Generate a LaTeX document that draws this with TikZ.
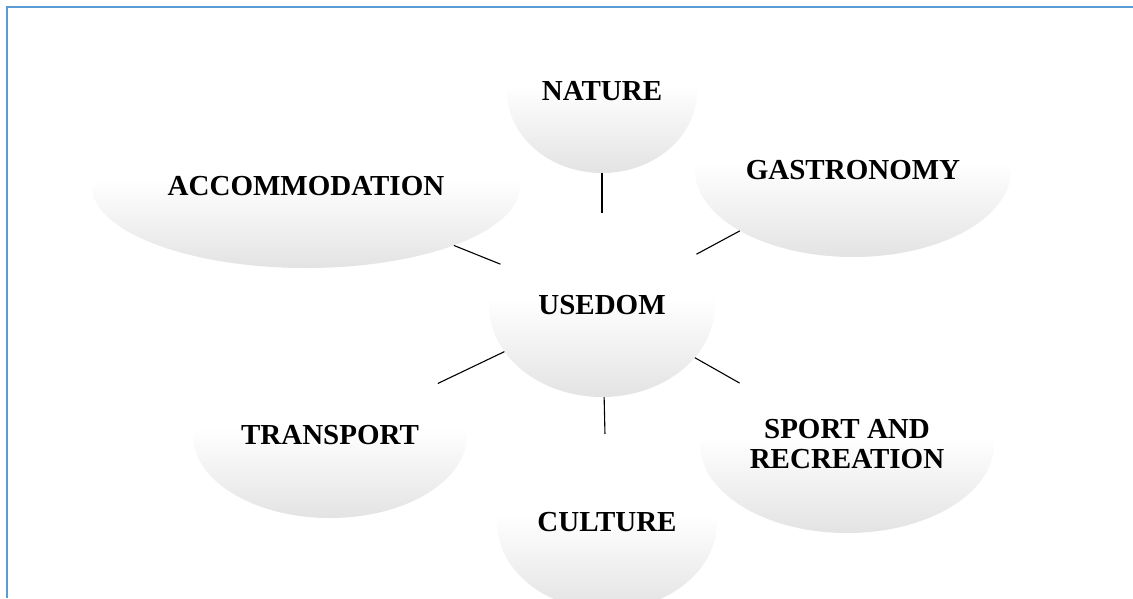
\documentclass[tikz,border=0pt]{standalone}
\usepackage{fontspec}
\setmainfont{Liberation Serif}
\usetikzlibrary{shapes.geometric}
\pgfdeclareverticalshading{bubbleshade}{100bp}{color(0bp)=(black!11); color(25bp)=(black!11); color(52bp)=(white); color(100bp)=(white)}
\definecolor{frameblue}{HTML}{5B9BD5}
\begin{document}
\begin{tikzpicture}[x=1pt,y=-1pt,
  bubble/.style={ellipse, shading=bubbleshade, inner sep=0pt, align=center,
    font=\fontsize{29}{30}\selectfont\bfseries},
  link/.style={line width=1.1pt, black},
  frame/.style={frameblue, line width=2.4pt}]
\useasboundingbox (0,0) rectangle (1133,598);
\clip (0,0) rectangle (1133,598);
\fill[white] (0,0) rectangle (1133,598);
\node[bubble, minimum width=428pt, minimum height=164pt] (acc) at (306,186) {ACCOMMODATION};
\node[bubble, minimum width=316pt, minimum height=174pt] (gas) at (853,170) {GASTRONOMY};
\node[bubble, minimum width=190pt, minimum height=164pt] (nat) at (602,91) {NATURE};
\node[bubble, minimum width=226pt, minimum height=184pt] (use) at (602,305) {USEDOM};
\node[bubble, minimum width=274pt, minimum height=166pt] (tra) at (330,435) {TRANSPORT};
\node[bubble, minimum width=294pt, minimum height=178pt] (spo) at (847,444) {SPORT AND\\RECREATION};
\node[bubble, minimum width=220pt, minimum height=176pt] (cul) at (607,522) {CULTURE};
\draw[link] (use) -- (nat);
\draw[link] (use) -- (acc);
\draw[link] (use) -- (gas);
\draw[link] (use) -- (tra);
\draw[link] (use) -- (spo);
\draw[link] (use) -- (cul);
\draw[frame] (7,598) -- (7,7) -- (1133,7);
\end{tikzpicture}
\end{document}
